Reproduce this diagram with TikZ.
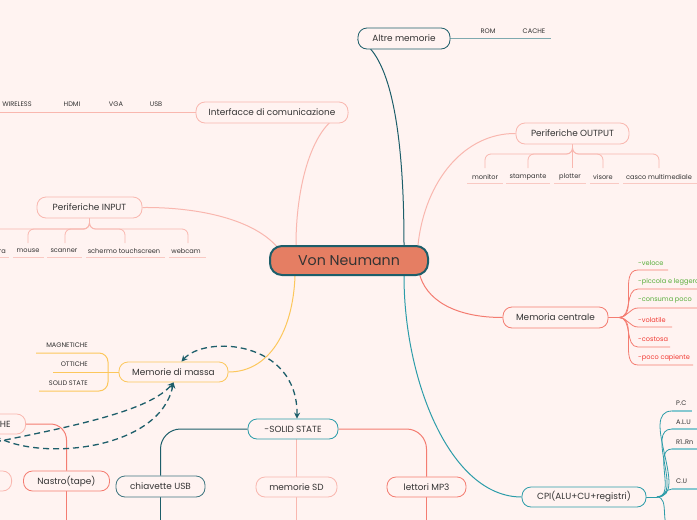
\documentclass[tikz,border=0pt]{standalone}
\usepackage{fontspec}
\setmainfont{Poppins}
\usetikzlibrary{arrows.meta}
\definecolor{bgc}{HTML}{FFF3F1}
\definecolor{txt}{HTML}{333333}
\definecolor{pinkl}{HTML}{F9B7AF}
\definecolor{pinku}{HTML}{F9C9C3}
\definecolor{salmon}{HTML}{F47C71}
\definecolor{yel}{HTML}{FCC75C}
\definecolor{darkteal}{HTML}{1D5E6A}
\definecolor{teal}{HTML}{2C9CA9}
\definecolor{teall}{HTML}{86C8D0}
\definecolor{greyteal}{HTML}{7FA9AF}
\definecolor{vnfill}{HTML}{E57E63}
\definecolor{grn}{HTML}{58AE3A}
\definecolor{rd}{HTML}{F23A33}
\pgfdeclarelayer{back}
\pgfdeclarelayer{links}
\pgfsetlayers{back,links,main}
\begin{document}
\begin{tikzpicture}[x=1pt,y=-1pt,
  box/.style={draw, line width=0.8pt, rounded corners=9pt, fill=bgc, inner sep=0pt,
    minimum height=21pt, text=txt, font=\fontsize{8.9}{10}\selectfont},
  leaf/.style={inner sep=0pt, text=txt, font=\fontsize{6.6}{7.5}\selectfont},
  link/.style={line width=1pt},
  dasharrow/.style={draw=darkteal, line width=1.3pt, dash pattern=on 6pt off 4pt,
    -{Stealth[length=6pt,width=6pt]}}
]
\useasboundingbox (0,0) rectangle (697,520);
\begin{pgfonlayer}{back}
\fill[bgc] (0,0) rectangle (697,520);
\end{pgfonlayer}
\clip (0,0) rectangle (697,520);

% ---------- main boxes ----------
\node[box, draw=darkteal, line width=2pt, fill=vnfill, minimum width=158pt,
  minimum height=29pt, rounded corners=12pt, font=\fontsize{14.2}{16}\selectfont] (vn) at (349,260.5) {Von Neumann};
\node[box, draw=darkteal, minimum width=92pt] (altre) at (404,38.5) {Altre memorie};
\node[box, draw=pinkl, minimum width=152pt] (interf) at (272,112.5) {Interfacce di comunicazione};
\node[box, draw=pinkl, minimum width=105pt] (input) at (89.5,207.5) {Periferiche INPUT};
\node[box, draw=yel, minimum width=109pt, minimum height=20pt] (massa) at (173.5,372) {Memorie di massa};
\node[box, draw=teal, minimum width=90pt, minimum height=20pt] (solid) at (293,429) {-SOLID STATE};
\node[box, draw=darkteal!85, minimum width=89pt] (chiav) at (160.5,486.5) {chiavette USB};
\node[box, draw=pinkl, minimum width=81pt, minimum height=20pt] (sd) at (296.5,487) {memorie SD};
\node[box, draw=salmon, minimum width=79pt, minimum height=20pt] (mp3) at (426.5,487) {lettori MP3};
\node[box, draw=pinkl, minimum width=113pt] (output) at (572.5,133.5) {Periferiche OUTPUT};
\node[box, draw=salmon, minimum width=105pt] (centrale) at (555.5,317.5) {Memoria centrale};
\node[box, draw=teal, minimum width=124pt, minimum height=20pt] (cpi) at (584,497) {CPI(ALU+CU+registri)};
\node[box, draw=pinkl, minimum height=20pt, inner xsep=15pt, anchor=east] (magn) at (26,424) {MAGNETICHE};
\node[box, draw=pinkl, minimum width=80pt, minimum height=20pt, anchor=east] (offbox) at (12,481) {};
\node[box, draw=salmon, minimum width=86pt, minimum height=20pt] (nastro) at (66.5,481) {Nastro(tape)};

% ---------- leaves ----------
\node[leaf] (rom) at (488,31) {ROM};
\node[leaf] (cache) at (534,31) {CACHE};
\node[leaf] (wir) at (17,104) {WIRELESS};
\node[leaf] (hdmi) at (72,104) {HDMI};
\node[leaf] (vga) at (116,104) {VGA};
\node[leaf] (usb) at (156,104) {USB};

\node[leaf, anchor=east] (tast) at (6,251) {tastiera};
\node[leaf] (mouse) at (28,251) {mouse};
\node[leaf] (scan) at (64,251) {scanner};
\node[leaf] (scherm) at (124,251) {schermo touchscreen};
\node[leaf] (webcam) at (186,251) {webcam};

\node[leaf] (monitor) at (485,177) {monitor};
\node[leaf] (stamp) at (528,177) {stampante};
\node[leaf] (plotter) at (570,177) {plotter};
\node[leaf] (visore) at (603,177) {visore};
\node[leaf] (casco) at (659,177) {casco multimediale};

\node[leaf, anchor=east] (mmag) at (88,345) {MAGNETICHE};
\node[leaf, anchor=east] (mott) at (88,364) {OTTICHE};
\node[leaf, anchor=east] (msol) at (88,383) {SOLID STATE};

\node[leaf, anchor=west, text=grn] (c1) at (638,263) {-veloce};
\node[leaf, anchor=west, text=grn] (c2) at (638,282) {-piccola e leggera};
\node[leaf, anchor=west, text=grn] (c3) at (638,301) {-consuma poco};
\node[leaf, anchor=west, text=rd] (c4) at (638,320) {-volatile};
\node[leaf, anchor=west, text=rd] (c5) at (638,339) {-costosa};
\node[leaf, anchor=west, text=rd] (c6) at (638,358) {-poco capiente};

\node[leaf, anchor=west] (pc) at (676,403) {P.C};
\node[leaf, anchor=west] (alu) at (676,422) {A.L.U};
\node[leaf, anchor=west] (reg) at (676,442) {R1..Rn};
\node[leaf, anchor=west] (cu) at (676,481) {C.U};

\begin{pgfonlayer}{links}
% ---------- central connectors ----------
\draw[link, darkteal] ([xshift=55pt]vn.north) .. controls (404,110) and (385,50) .. ([yshift=-1pt]altre.west);
\draw[link, pinkl] ([xshift=-53pt]vn.north) .. controls (296,180) and (315,118) .. (interf.east);
\draw[link, pinkl] ([xshift=9pt,yshift=-3pt]vn.north west) .. controls (255,220) and (200,207) .. (input.east);
\draw[link, yel] ([xshift=-54pt]vn.south) .. controls (293,330) and (270,372) .. (massa.east);
\draw[link, pinkl] ([xshift=69pt]vn.north) .. controls (425,180) and (465,133) .. (output.west);
\draw[link, salmon] ([xshift=-10pt,yshift=4pt]vn.south east) .. controls (425,300) and (455,317.5) .. (centrale.west);
\draw[link, teal] ([xshift=55pt]vn.south) .. controls (404,380) and (450,497) .. (cpi.west);

% ---------- altre memorie ----------
\draw[greyteal, line width=1.3pt] (altre.east) -- (551,38.5);

% ---------- interfacce ----------
\draw[pinkl, line width=0.9pt] (interf.west) -- (0,112.5);

% ---------- input tree ----------
\foreach \n/\xx in {tast/-10, mouse/28, scan/65, scherm/125, webcam/188}{
  \draw[pinkl, line width=0.8pt, rounded corners=6pt] (input.south) |- (\xx,229) -- (\xx,243);
}
\foreach \a/\b in {-30/9, 13/44, 47/82, 86/165, 169/206}{
  \draw[pinku, line width=0.7pt] (\a,257) -- (\b,257);
}

% ---------- output tree ----------
\foreach \xx in {485, 528, 603, 659}{
  \draw[pinkl, line width=0.8pt, rounded corners=6pt] (output.south) |- (\xx,154) -- (\xx,168);
}
\draw[pinkl, line width=0.8pt] (output.south) -- (572.5,168);
\foreach \a/\b in {467/503, 506/550, 554/586, 590/619, 623/697}{
  \draw[pinku, line width=0.7pt] (\a,183) -- (\b,183);
}

% ---------- memorie di massa ----------
\draw[yel, line width=1pt, rounded corners=9pt] (36,353) -- (108,353) -- (108,391) -- (39,391);
\draw[yel, line width=1pt] (53,372) -- (massa.west);

% ---------- memoria centrale ----------
\draw[salmon, line width=1.6pt] (centrale.east) -- (619,317.5);
\foreach \yy/\ee in {270/668, 289/697, 308/697, 327/672, 347/670, 365/693}{
  \draw[salmon, line width=0.8pt] (619,317.5) to[out=0,in=180] (638,\yy) -- (\ee,\yy);
}

% ---------- CPI ----------
\draw[teal, line width=1pt] (cpi.east) -- (657,497);
\foreach \yy/\ee in {411/692, 429/697, 449/697, 489/697, 528/697}{
  \draw[teal, line width=0.8pt] (657,497) to[out=0,in=180] (672,\yy);
  \draw[teall, line width=1.4pt] (672,\yy) -- (\ee,\yy);
}

% ---------- solid state ----------
\draw[darkteal, line width=1pt, rounded corners=20pt] (solid.west) -| (chiav.north);
\draw[darkteal, line width=1pt] (chiav.south) -- (160.5,525);
\draw[pinkl, line width=1pt] (sd.north |- solid.south) -- (sd.north);
\draw[pinkl, line width=1pt] (sd.south) -- (296.5,525);
\draw[salmon, line width=1pt, rounded corners=20pt] (solid.east) -| (mp3.north);
\draw[salmon, line width=1pt] (mp3.south) -- (426.5,525);

% ---------- magnetiche ----------
\draw[salmon, line width=1pt, rounded corners=16pt] (magn.east) -| (nastro.north);
\draw[salmon, line width=1pt] (nastro.south) -- (66.5,525);
\end{pgfonlayer}

% ---------- dashed arrows ----------
\coordinate (lft1) at (-5,442);
\coordinate (lft2) at (-5,436);
\draw[dasharrow, {Stealth[length=6pt,width=6pt]}-{Stealth[length=6pt,width=6pt]}]
  ([xshift=8pt]massa.north) .. controls (205,335) and (298,340) .. ([xshift=4pt]solid.north);
\draw[dasharrow] (lft1) .. controls (80,425) and (150,410) .. (massa.south);
\draw[dasharrow] (lft2) .. controls (40,462) and (160,450) .. (massa.south);
\end{tikzpicture}
\end{document}
